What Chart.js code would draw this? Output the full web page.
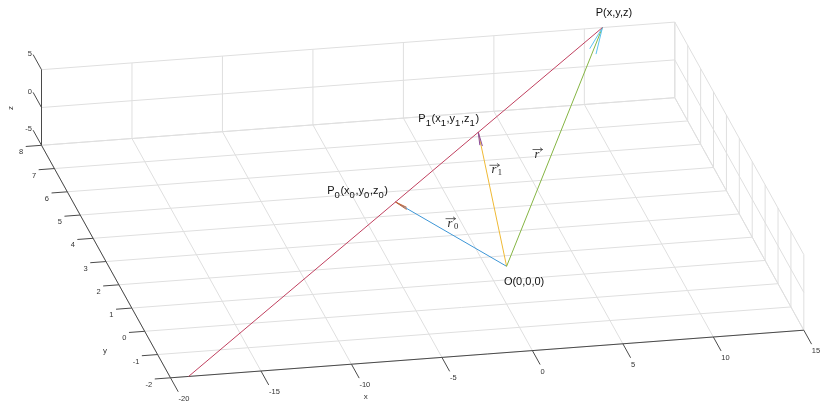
<!DOCTYPE html>
<html>
<head>
<meta charset="utf-8">
<script src="https://cdn.jsdelivr.net/npm/chart.js@4.4.0/dist/chart.umd.min.js"></script>
<style>
  html, body { margin: 0; padding: 0; background: #ffffff; }
  #wrap { width: 820px; height: 402px; }
</style>
</head>
<body>
<div id="wrap"><canvas id="c" width="820" height="402"></canvas></div>
<script>
// ---- axis ticks ----
const xTicks = [-20, -15, -10, -5, 0, 5, 10, 15];
const yTicks = [-2, -1, 0, 1, 2, 3, 4, 5, 6, 7, 8];
const zTicks = [-5, 0, 5];

// ---- points of the line r = r0 + t*v ----
const O  = [0, 0, 0];
const P0 = [-4, 3, 0];     // t = 0
const P1 = [2, 5, 2];      // t = 2
const P  = [11, 8, 5];     // t = 5
const lineStart = [-19, -2, -5];  // t = -5

// ---- labels ----
const pointLabels = [
  { at: P,  parts: [['P(x,y,z)', 0]] },
  { at: P1, parts: [['P', 0], ['1', 1], ['(x', 0], ['1', 1], [',y', 0], ['1', 1], [',z', 0], ['1', 1], [')', 0]] },
  { at: P0, parts: [['P', 0], ['0', 1], ['(x', 0], ['0', 1], [',y', 0], ['0', 1], [',z', 0], ['0', 1], [')', 0]] },
  { at: O,  parts: [['O(0,0,0)', 0]] }
];
const vectorNames = ['0', '1', ''];

// ---- orthographic view: screen offset per data unit ----
const VIEW = {
  corner: [-20, -2, -5],
  corner2d: [170.5, 377.8],
  ex: [18.095, -1.36],
  ey: [-12.9, -23.25],
  ez: [0, -7.56]
};
const LIM = { x: [-20, 15], y: [-2, 8], z: [-5, 5] };

function proj(p) {
  const dx = p[0] - VIEW.corner[0], dy = p[1] - VIEW.corner[1], dz = p[2] - VIEW.corner[2];
  return {
    x: VIEW.corner2d[0] + dx * VIEW.ex[0] + dy * VIEW.ey[0] + dz * VIEW.ez[0],
    y: VIEW.corner2d[1] + dx * VIEW.ex[1] + dy * VIEW.ey[1] + dz * VIEW.ez[1]
  };
}

const GRID = '#dfdfdf';
const AXIS = '#4a4a4a';
const datasets = [];
function poly(points, color, width, order) {
  datasets.push({
    data: points.map(proj), showLine: true, borderColor: color, borderWidth: width,
    pointRadius: 0, fill: false, order: order, tension: 0
  });
}

// grid on the floor (z = -5), back wall (y = 8), side wall (x = 15)
const [x0, x1] = LIM.x, [y0, y1] = LIM.y, [z0, z1] = LIM.z;
xTicks.forEach(x => { poly([[x, y0, z0], [x, y1, z0]], GRID, 1, 100); poly([[x, y1, z0], [x, y1, z1]], GRID, 1, 100); });
yTicks.forEach(y => { poly([[x0, y, z0], [x1, y, z0]], GRID, 1, 100); poly([[x1, y, z0], [x1, y, z1]], GRID, 1, 100); });
zTicks.forEach(z => { poly([[x0, y1, z], [x1, y1, z]], GRID, 1, 100); poly([[x1, y0, z], [x1, y1, z]], GRID, 1, 100); });

// axis lines and tick marks
poly([[x0, y0, z0], [x1, y0, z0]], AXIS, 1, 90);
poly([[x0, y0, z0], [x0, y1, z0]], AXIS, 1, 90);
poly([[x0, y1, z0], [x0, y1, z1]], AXIS, 1, 90);
xTicks.forEach(x => poly([[x, y0, z0], [x, y0 - 0.6, z0]], AXIS, 1, 90));
yTicks.forEach(y => poly([[x0, y, z0], [x0 - 0.87, y, z0]], AXIS, 1, 90));
zTicks.forEach(z => poly([[x0, y1, z], [x0, y1 + 0.65, z]], AXIS, 1, 90));

// position vectors from O with arrow heads (quiver3 style)
const stemColors = ['#3d96d6', '#efb935', '#85b543'];
const headColors = ['#c9602e', '#8a4a98', '#5cc3ef'];
const HEAD_A = 0.1, HEAD_B = 0.11;
[P0, P1, P].forEach((p, i) => {
  poly([O, p], stemColors[i], 1, 50 - i * 2);
  const [u, v, w] = p.map((c, k) => c - O[k]);
  const b1 = [p[0] - HEAD_A * (u + HEAD_B * v), p[1] - HEAD_A * (v - HEAD_B * u), p[2] - HEAD_A * w];
  const b2 = [p[0] - HEAD_A * (u - HEAD_B * v), p[1] - HEAD_A * (v + HEAD_B * u), p[2] - HEAD_A * w];
  poly([b1, p, b2], headColors[i], 1, 49 - i * 2);
});

// the line through P0, P1 and P
poly([lineStart, P], '#c0405f', 1, 10);

// ---- text drawn on top ----
const textPlugin = {
  id: 'text3d',
  afterDatasetsDraw(chart) {
    const ctx = chart.ctx, sx = chart.scales.x, sy = chart.scales.y;
    const px = p => { const q = proj(p); return [sx.getPixelForValue(q.x), sy.getPixelForValue(q.y)]; };
    ctx.save();

    // tick labels
    ctx.fillStyle = '#333333';
    ctx.font = '7.5px "Liberation Sans", Arial, sans-serif';
    ctx.textBaseline = 'middle';
    ctx.textAlign = 'left';
    xTicks.forEach(x => { const [a, b] = px([x, y0, z0]); ctx.fillText(String(x), a + 8, b + 21); });
    ctx.textAlign = 'right';
    yTicks.forEach(y => { const [a, b] = px([x0, y, z0]); ctx.fillText(String(y), a - 18.3, b + 7); });
    zTicks.forEach(z => { const [a, b] = px([x0, y1, z]); ctx.fillText(String(z), a - 9.7, b - 16); });

    // axis titles
    ctx.font = '8px "Liberation Sans", Arial, sans-serif';
    ctx.textAlign = 'center';
    { const [a, b] = px([-10, y0, z0]); ctx.fillText('x', a + 14.2, b + 32.3); }
    { const [a, b] = px([x0, -1, z0]); ctx.fillText('y', a - 52.6, b - 4); }
    { const [a, b] = px([x0, y1, 0]); ctx.save(); ctx.translate(a - 30.8, b + 0.6); ctx.rotate(-Math.PI / 2); ctx.fillText('z', 0, 0); ctx.restore(); }

    // point labels with subscripts
    const offsets = [[-6.7, -15], [-60, -13], [-68.3, -10.6], [-2.7, 16]];
    ctx.fillStyle = '#111111';
    ctx.textAlign = 'left';
    ctx.textBaseline = 'middle';
    pointLabels.forEach((lab, i) => {
      let [a, b] = px(lab.at);
      a += offsets[i][0]; b += offsets[i][1];
      lab.parts.forEach(([s, sub]) => {
        ctx.font = (sub ? '9.5px' : '11px') + ' "Liberation Sans", Arial, sans-serif';
        ctx.fillText(s, a, b + (sub ? 4 : 0));
        a += ctx.measureText(s).width + (sub ? 0.6 : 0);
      });
    });

    // vector names: r with an arrow above, optional subscript
    const vOff = [[-5.5, -11.5], [-3, -30], [-22, 6.6]];
    ctx.fillStyle = '#222222';
    [P0, P1, P].forEach((p, i) => {
      const m = [(p[0] + O[0]) / 2, (p[1] + O[1]) / 2, (p[2] + O[2]) / 2];
      let [a, b] = px(m);
      a += vOff[i][0]; b += vOff[i][1];
      ctx.font = 'italic 12.5px "Liberation Serif", "DejaVu Serif", serif';
      ctx.textBaseline = 'alphabetic';
      ctx.fillText('r', a + 2, b + 4);
      const rw = ctx.measureText('r').width;
      // arrow over r
      ctx.strokeStyle = '#222222';
      ctx.lineWidth = 0.7;
      ctx.beginPath();
      ctx.moveTo(a, b - 4); ctx.lineTo(a + 10, b - 4);
      ctx.moveTo(a + 7.5, b - 5.8); ctx.lineTo(a + 10, b - 4); ctx.lineTo(a + 7.5, b - 2.2);
      ctx.stroke();
      if (vectorNames[i]) {
        ctx.font = '8.5px "Liberation Serif", "DejaVu Serif", serif';
        ctx.fillText(vectorNames[i], a + 2 + rw + 1.5, b + 6);
      }
    });
    ctx.restore();
  }
};

new Chart(document.getElementById('c').getContext('2d'), {
  type: 'scatter',
  data: { datasets },
  options: {
    responsive: false,
    animation: false,
    devicePixelRatio: 1,
    layout: { padding: 0 },
    plugins: { legend: { display: false }, tooltip: { enabled: false } },
    elements: { point: { radius: 0 } },
    scales: {
      x: { type: 'linear', display: false, min: 0, max: 820 },
      y: { type: 'linear', display: false, min: 0, max: 402, reverse: true }
    }
  },
  plugins: [textPlugin]
});
</script>
</body>
</html>
